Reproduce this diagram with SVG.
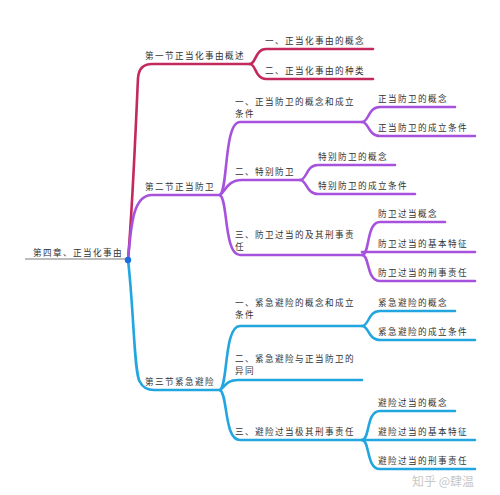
<svg xmlns="http://www.w3.org/2000/svg" width="500" height="495" viewBox="0 0 500 495">
<style>
text{font-family:"Noto Sans CJK SC","Noto Sans",sans-serif;font-size:8.6px;letter-spacing:1.4px;fill:#333}
.c path{fill:none;stroke-width:2.6;stroke-linecap:round}
.r{stroke:#c3295d}
.p{stroke:#a652dc}
.b{stroke:#21a6e0}
</style>
<rect width="500" height="495" fill="#fff"/>
<g class="c" id="connectors">
<line x1="25" y1="259" x2="126" y2="259" stroke="#bdbdbd" stroke-width="2"/>
<path class="r" d="M128,260 C133,200 136,120 138,78 Q139,64 152,64 L250,64"/>
<path class="r" d="M250,64 C256,64 255,49 266,49 L373,49"/>
<path class="r" d="M250,64 C256,64 255,79 266,79 L373,79"/>
<path class="p" d="M128,260 C131,225 133,195 152,195 L220,195"/>
<path class="p" d="M220,195 C228,190 224,122 240,122 L362,122"/>
<path class="p" d="M220,195 C226,190 228,180 242,180 L300,180"/>
<path class="p" d="M220,195 C228,200 224,255 240,255 L362,255"/>
<path class="p" d="M362,122 C369,122 368,107 380,107 L455,107"/>
<path class="p" d="M362,122 C369,122 368,136 380,136 L475,136"/>
<path class="p" d="M300,180 C307,180 306,165 318,165 L395,165"/>
<path class="p" d="M300,180 C307,180 306,194 318,194 L415,194"/>
<path class="p" d="M362,255 C370,255 366,222 380,222 L445,222"/>
<path class="p" d="M362,252 L475,252"/>
<path class="p" d="M362,255 C370,255 366,281 380,281 L475,281"/>
<path class="b" d="M128,260 C134,310 134,375 140,382 Q144,390 154,390 L220,390"/>
<path class="b" d="M220,390 C228,385 224,326 240,326 L362,326"/>
<path class="b" d="M220,390 C226,386 226,380 238,380 L362,380"/>
<path class="b" d="M220,390 C228,395 224,440 240,440 L362,440"/>
<path class="b" d="M362,326 C369,326 368,311 380,311 L455,311"/>
<path class="b" d="M362,326 C369,326 368,340 380,340 L475,340"/>
<path class="b" d="M362,440 C370,440 366,411 380,411 L455,411"/>
<path class="b" d="M362,440 L475,440"/>
<path class="b" d="M362,440 C370,440 366,469 380,469 L475,469"/>
</g>
<g id="root"><text x="33" y="256">第四章、正当化事由</text><circle cx="128" cy="260" r="3.2" fill="#1a6fe0"/></g>
<g id="s1"><text x="145" y="59">第一节正当化事由概述</text></g>
<g id="s1a"><text x="265" y="44">一、正当化事由的概念</text></g>
<g id="s1b"><text x="265" y="74">二、正当化事由的种类</text></g>
<g id="s2"><text x="145" y="190">第二节正当防卫</text></g>
<g id="s2a"><text x="235" y="105">一、正当防卫的概念和成立</text><text x="235" y="117">条件</text></g>
<g id="s2a1"><text x="378" y="102">正当防卫的概念</text></g>
<g id="s2a2"><text x="378" y="131">正当防卫的成立条件</text></g>
<g id="s2b"><text x="235" y="175">二、特别防卫</text></g>
<g id="s2b1"><text x="318" y="160">特别防卫的概念</text></g>
<g id="s2b2"><text x="318" y="189">特别防卫的成立条件</text></g>
<g id="s2c"><text x="235" y="238">三、防卫过当的及其刑事责</text><text x="235" y="250">任</text></g>
<g id="s2c1"><text x="378" y="217">防卫过当概念</text></g>
<g id="s2c2"><text x="378" y="247">防卫过当的基本特征</text></g>
<g id="s2c3"><text x="378" y="276">防卫过当的刑事责任</text></g>
<g id="s3"><text x="145" y="385">第三节紧急避险</text></g>
<g id="s3a"><text x="235" y="306">一、紧急避险的概念和成立</text><text x="235" y="318">条件</text></g>
<g id="s3a1"><text x="378" y="306">紧急避险的概念</text></g>
<g id="s3a2"><text x="378" y="335">紧急避险的成立条件</text></g>
<g id="s3b"><text x="235" y="362">二、紧急避险与正当防卫的</text><text x="235" y="374">异同</text></g>
<g id="s3c"><text x="235" y="435">三、避险过当极其刑事责任</text></g>
<g id="s3c1"><text x="378" y="406">避险过当的概念</text></g>
<g id="s3c2"><text x="378" y="435">避险过当的基本特征</text></g>
<g id="s3c3"><text x="378" y="464">避险过当的刑事责任</text></g>
<text x="412" y="486" style="font-size:12px;letter-spacing:0;fill:#c8c8c8">知乎 @肆温</text>
</svg>
